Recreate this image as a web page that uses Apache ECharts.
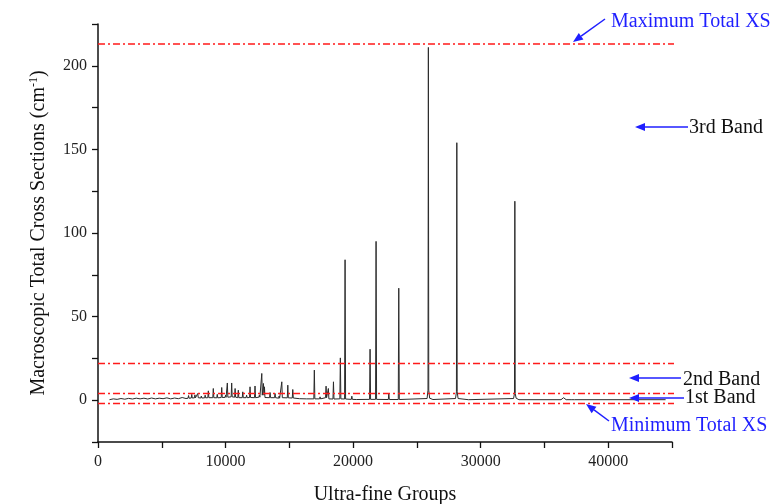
<!DOCTYPE html>
<html>
<head>
<meta charset="utf-8">
<script src="https://cdn.jsdelivr.net/npm/echarts@6/dist/echarts.min.js"></script>
<style>
html,body{margin:0;padding:0;background:#fff;}
#chart{width:771px;height:504px;}
</style>
</head>
<body>
<div id="chart"></div>
<script>
// Ultra-fine group index (x) and macroscopic total cross section (y).
// Each line of `groups` matches the same line of `xs`.
const groups = [
  900, 1200, 1500, 1800, 2100, 2400, 2700, 3000, 3300, 3600, 3900, 4200, 4500, 4800, 5100, 5400, 5700, 6000, 6300, 6600, 6900,
  7060, 7100, 7140,
  7310, 7350, 7390,
  7560, 7600, 7640,
  7780, 7820, 7860,
  8060, 8100, 8140,
  8360, 8400, 8440,
  8610, 8650, 8690,
  9000, 9040, 9080,
  9310, 9350, 9390,
  9660, 9700, 9740,
  9960, 10000, 10040,
  10100, 10140, 10180,
  10440, 10480, 10520,
  10710, 10750, 10790,
  10960, 11000, 11040,
  11310, 11350, 11390,
  11610, 11650, 11690,
  11880, 11920, 11960,
  12270, 12310, 12350,
  12610, 12650, 12690,
  12800, 12840, 12880, 12930, 12970, 13010, 13050, 13090,
  13450, 13490, 13530,
  13840, 13880, 13920,
  14160, 14200, 14240,
  14370, 14410, 14450,
  14840, 14880, 14920,
  15230, 15270, 15310,
  15800, 15840, 15880,
  16330, 16370, 16410,
  16920, 16960, 17000,
  17370, 17410, 17450,
  17840, 17880, 17920,
  18020, 18060, 18100,
  18420, 18460, 18500,
  18960, 19000, 19040,
  19330, 19370, 19410,
  19860, 19900, 19940,
  20250, 20290, 20330,
  21290, 21330, 21370,
  21760, 21800, 21840,
  22760, 22800, 22840,
  23540, 23580, 23620,
  25800, 25870, 25900, 25930, 26000,
  26260, 26300, 26340,
  28030, 28100, 28130, 28160, 28230,
  29040, 29080, 29120,
  32580, 32650, 32680, 32710, 32780,
  33000,
  36300, 36500, 36700,
  37150, 37250, 37350,
  44500
];
const xs = [
  0.3, 0.8, 0.5, 1.0, 0.6, 1.1, 0.7, 1.2, 0.8, 1.2, 0.7, 1.3, 0.8, 1.2, 0.9, 1.4, 0.8, 1.3, 0.9, 1.6, 1.0,
  1.2, 2.8, 1.2,
  1.3, 3.5, 1.3,
  1.4, 3.2, 1.4,
  1.5, 4.0, 1.5,
  1.3, 2.5, 1.3,
  1.4, 3.0, 1.4,
  1.5, 5.6, 1.5,
  1.5, 7.0, 1.5,
  1.4, 3.5, 1.4,
  1.6, 7.6, 1.6,
  1.7, 3.0, 1.7,
  1.8, 10.3, 1.8,
  2.0, 10.3, 2.0,
  1.8, 7.0, 1.8,
  1.5, 6.0, 1.5,
  1.5, 5.0, 1.5,
  1.5, 3.0, 1.5,
  1.6, 8.0, 1.6,
  1.5, 8.5, 1.5,
  1.8, 3.0, 1.8,
  1.8, 16.0, 3.0, 3.0, 10.0, 3.0, 8.0, 1.6,
  1.5, 4.6, 1.5,
  1.5, 4.0, 1.5,
  1.2, 2.5, 1.2,
  1.5, 11.0, 1.5,
  1.4, 9.0, 1.4,
  1.3, 6.4, 1.3,
  0.9, 2.0, 0.9,
  0.8, 1.5, 0.8,
  0.8, 18.0, 0.8,
  0.8, 2.0, 0.8,
  1.5, 8.4, 1.5,
  0.8, 7.0, 0.8,
  0.7, 11.0, 0.7,
  0.8, 25.3, 0.8,
  0.7, 84, 0.7,
  0.5, 2.4, 0.5,
  0.4, 0.8, 0.4,
  0.5, 30.5, 0.5,
  0.5, 95, 0.5,
  0.4, 4.0, 0.4,
  0.4, 67, 0.4,
  1.0, 6, 211, 6, 1.2,
  0.4, 1.5, 0.4,
  1.0, 5, 154, 5, 1.0,
  0.3, 1.0, 0.3,
  1.0, 4, 119, 4, 1.2,
  0.3,
  0.3, 1.5, 0.3,
  0.3, 0.8, 0.3,
  0.3
];
// Reference levels (dash-dot lines)
const levelNames = ['Maximum Total XS', '3rd/2nd band boundary', '2nd/1st band boundary', 'Minimum Total XS'];
const levelValues = [213, 22, 4, -2];
const levelSpan = [0, 45400];
const xTickLabels = [0, 10000, 20000, 30000, 40000];
const yTickLabels = [0, 50, 100, 150, 200];

const FONT = "'Liberation Serif','Times New Roman',serif";
const chart = echarts.init(document.getElementById('chart'), null, {renderer: 'canvas'});

const lineData = groups.map((g, i) => [g, xs[i]]);
const series = [{
  type: 'line', data: lineData, symbol: 'none', showSymbol: false, smooth: false,
  lineStyle: {color: '#2b2b2b', width: 1}, z: 3, animation: false
}];
levelValues.forEach((v, i) => {
  series.push({
    name: levelNames[i], type: 'line', data: [[levelSpan[0], v], [levelSpan[1], v]],
    symbol: 'none', clip: false, z: 4, animation: false,
    lineStyle: {color: '#ff1a1a', width: 1.5, type: [7, 3, 2, 3]}
  });
});

const option = {
  backgroundColor: '#ffffff',
  animation: false,
  grid: {left: 98, right: 99, top: 24, bottom: 62, containLabel: false, outerBoundsMode: 'none'},
  xAxis: {
    type: 'value', min: 0, max: 45000, interval: 5000,
    name: 'Ultra-fine Groups', nameLocation: 'middle', nameGap: 43,
    nameTextStyle: {fontFamily: FONT, fontSize: 20, color: '#111'},
    axisLine: {onZero: false, lineStyle: {color: '#111', width: 1.5}},
    axisTick: {inside: false, length: 6, lineStyle: {color: '#111', width: 1.3}},
    axisLabel: {fontFamily: FONT, fontSize: 16, color: '#222', margin: 12,
      formatter: (v) => xTickLabels.indexOf(v) >= 0 ? String(v) : ''},
    splitLine: {show: false}
  },
  yAxis: {
    type: 'value', min: -25, max: 225, interval: 25,
    name: '{a|Macroscopic Total Cross Sections (cm}{s|-1}{a|)}', nameLocation: 'middle', nameGap: 48,
    nameTextStyle: {fontFamily: FONT, fontSize: 20, color: '#111',
      rich: {a: {fontFamily: FONT, fontSize: 20, color: '#111'},
             s: {fontFamily: FONT, fontSize: 12, color: '#111', verticalAlign: 'top', padding: [0, 0, 10, 0]}}},
    axisLine: {lineStyle: {color: '#111', width: 1.5}},
    axisTick: {inside: false, length: 6, lineStyle: {color: '#111', width: 1.3}},
    axisLabel: {fontFamily: FONT, fontSize: 16, color: '#222', margin: 11,
      formatter: (v) => yTickLabels.indexOf(v) >= 0 ? String(v) : ''},
    splitLine: {show: false}
  },
  series: series
};
chart.setOption(option);

// Annotations
const BLUE = '#1f1fff';
function arrow(x1, y1, x2, y2) {
  const ang = Math.atan2(y2 - y1, x2 - x1);
  const L = 10, W = 4;
  const bx = x2 - L * Math.cos(ang), by = y2 - L * Math.sin(ang);
  const px = -Math.sin(ang) * W, py = Math.cos(ang) * W;
  return [
    {type: 'line', shape: {x1: x1, y1: y1, x2: bx, y2: by}, style: {stroke: BLUE, lineWidth: 1.5}, z: 10},
    {type: 'polygon', shape: {points: [[x2, y2], [bx + px, by + py], [bx - px, by - py]]}, style: {fill: BLUE}, z: 10}
  ];
}
function label(text, x, y, color) {
  return {type: 'text', x: x, y: y, style: {text: text, fill: color, font: '20px ' + FONT, textVerticalAlign: 'middle', textAlign: 'left'}, z: 10};
}
const g = [];
g.push(label('Maximum Total XS', 611, 22, BLUE));
g.push(...arrow(605, 19, 573, 42));
g.push(label('3rd Band', 689, 128, '#111'));
g.push(...arrow(688, 127, 635, 127));
g.push(label('2nd Band', 683, 380, '#111'));
g.push(...arrow(681, 378, 629, 378));
g.push(label('1st Band', 685, 398, '#111'));
g.push(...arrow(684, 398, 629, 398));
g.push(label('Minimum Total XS', 611, 426, BLUE));
g.push(...arrow(609, 421, 586, 404));
chart.setOption({graphic: {elements: g}});
</script>
</body>
</html>
